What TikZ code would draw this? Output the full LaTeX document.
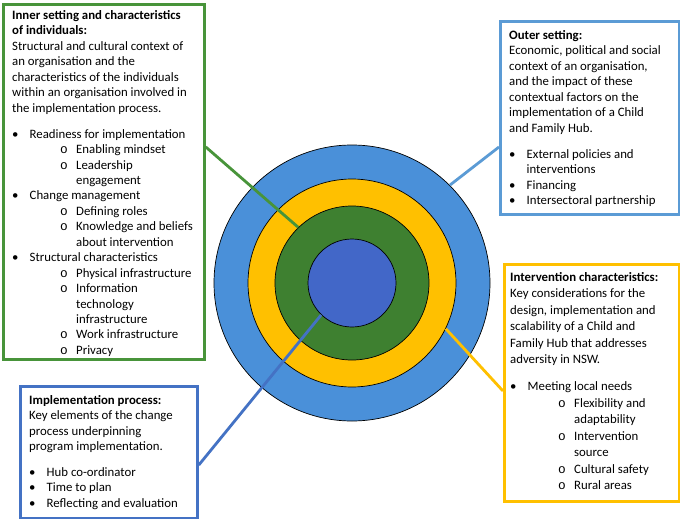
\documentclass[tikz,border=0pt]{standalone}
\usepackage{fontspec}
\setmainfont{Carlito}
\newfontfamily\monof{Liberation Mono}
\usetikzlibrary{calc}
\definecolor{ringblue}{HTML}{4A90D9}
\definecolor{ringyellow}{HTML}{FFC000}
\definecolor{ringgreen}{HTML}{3E8030}
\definecolor{coreblue}{HTML}{4267C8}
\definecolor{boxgreen}{HTML}{48943A}
\definecolor{boxlblue}{HTML}{5B9BD5}
\definecolor{boxyellow}{HTML}{FFC000}
\definecolor{boxblue}{HTML}{4472C4}
\newcommand{\bul}[1]{\makebox[17.5pt][l]{\textbullet}#1}
\newcommand{\subb}[1]{\hspace*{48pt}\makebox[16pt][l]{\monof o}#1}
\newcommand{\cont}[1]{\hspace*{64pt}#1}
\tikzset{
  ring/.style={circle, draw=black, line width=0.7pt, inner sep=0pt},
  infobox/.style={rectangle, line width=2.8pt, inner sep=0pt, anchor=north west, fill=white},
  txt/.style={inner sep=0pt, anchor=base west, font=\fontsize{12.8}{15.45}\selectfont},
  link/.style={line width=2.8pt}
}
\begin{document}
\begin{tikzpicture}[x=1pt,y=-1pt]
\fill[white] (0,0) rectangle (680,519);
\useasboundingbox (0,0) rectangle (680,519);
% rings
\node[ring, fill=ringblue, minimum size=276pt] (outer) at (352,283) {};
\node[ring, fill=ringyellow, minimum size=208pt] (yellow) at (352,283) {};
\node[ring, fill=ringgreen, minimum size=154pt] (green) at (352,283) {};
\node[ring, fill=coreblue, minimum size=88pt] (core) at (352,283) {};
% boxes
\node[infobox, draw=boxgreen, minimum width=201pt, minimum height=355pt] (gbox) at (2,3) {};
\node[infobox, draw=boxlblue, minimum width=179pt, minimum height=193pt] (obox) at (499,20) {};
\node[infobox, draw=boxyellow, minimum width=175pt, minimum height=237pt] (ybox) at (503,263) {};
\node[infobox, draw=boxblue, minimum width=177pt, minimum height=132pt] (ibox) at (19,385) {};
% connectors
\draw[link, boxgreen] ($(gbox.north east)+(0,144)$) -- (green.134);
\draw[link, boxlblue] ($(obox.north west)+(0,127)$) -- (outer.45);
\draw[link, boxyellow] ($(ybox.north west)+(0,128)$) -- (yellow.-26);
\draw[link, boxblue] ($(ibox.north east)+(0,80)$) -- (core.226);
% texts
\node[txt] (gtext) at (12,19.5) {\begin{minipage}[t]{200pt}\raggedright
\textbf{Inner setting and characteristics}\\
\textbf{of individuals:}\\
Structural and cultural context of\\
an organisation and the\\
characteristics of the individuals\\
within an organisation involved in\\
the implementation process.\par\vspace{10.5pt}
\bul{Readiness for implementation}\\
\subb{Enabling mindset}\\
\subb{Leadership}\\
\cont{engagement}\\
\bul{Change management}\\
\subb{Defining roles}\\
\subb{Knowledge and beliefs}\\
\cont{about intervention}\\
\bul{Structural characteristics}\\
\subb{Physical infrastructure}\\
\subb{Information}\\
\cont{technology}\\
\cont{infrastructure}\\
\subb{Work infrastructure}\\
\subb{Privacy}
\end{minipage}};
\node[txt] (otext) at (509,39.5) {\begin{minipage}[t]{170pt}\raggedright
\textbf{Outer setting:}\\
Economic, political and social\\
context of an organisation,\\
and the impact of these\\
contextual factors on the\\
implementation of a Child\\
and Family Hub.\par\vspace{10.5pt}
\bul{External policies and}\\
\hspace*{17.5pt}interventions\\
\bul{Financing}\\
\bul{Intersectoral partnership}
\end{minipage}};
\node[txt] (ytext) at (510,281) {\begin{minipage}[t]{170pt}\raggedright
\fontsize{12.8}{16.5}\selectfont
\textbf{Intervention characteristics:}\\
Key considerations for the\\
design, implementation and\\
scalability of a Child and\\
Family Hub that addresses\\
adversity in NSW.\par\vspace{10.9pt}
\bul{Meeting local needs}\\
\subb{Flexibility and}\\
\cont{adaptability}\\
\subb{Intervention}\\
\cont{source}\\
\subb{Cultural safety}\\
\subb{Rural areas}
\end{minipage}};
\node[txt] (itext) at (29,404.5) {\begin{minipage}[t]{170pt}\raggedright
\textbf{Implementation process:}\\
Key elements of the change\\
process underpinning\\
program implementation.\par\vspace{10pt}
\bul{Hub co-ordinator}\\
\bul{Time to plan}\\
\bul{Reflecting and evaluation}
\end{minipage}};
\end{tikzpicture}
\end{document}
